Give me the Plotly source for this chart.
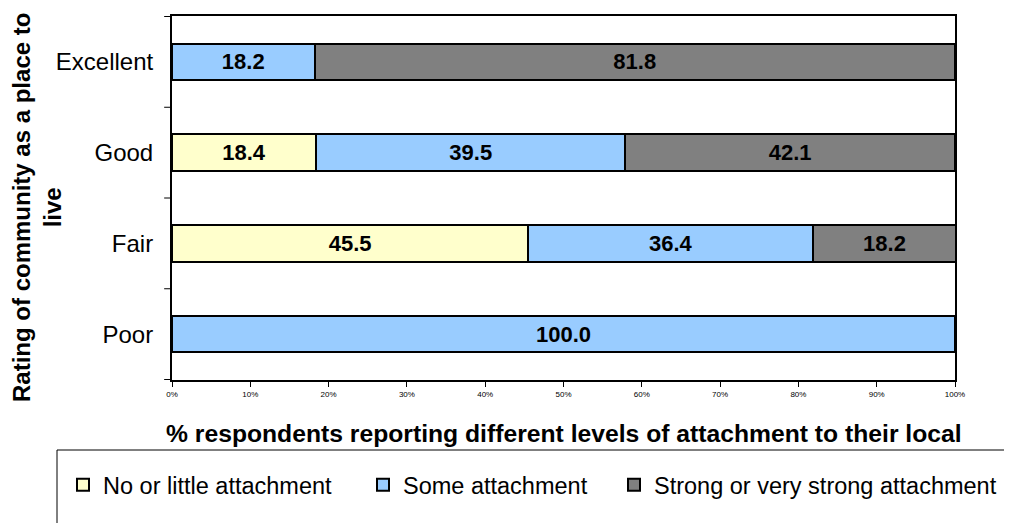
import plotly.graph_objects as go

categories = ["Poor", "Fair", "Good", "Excellent"]
no_little = [None, 45.5, 18.4, None]
some = [100.0, 36.4, 39.5, 18.2]
strong = [None, 18.2, 42.1, 81.8]
series_names = ["No or little attachment", "Some attachment", "Strong or very strong attachment"]
colors = ["#FFFFCC", "#99CCFF", "#808080"]
x_ticks = [0, 10, 20, 30, 40, 50, 60, 70, 80, 90, 100]
x_tick_labels = [f"{v}%" for v in x_ticks]

FONT = "Liberation Sans, Arial"
# plot area in absolute page pixels: x 172..955, y 16..380 (page has 8px body margin)
PX0, PW, PY0, PH = 172, 783, 16, 364


def px_to_paper_x(px):
    return (px - PX0) / PW


def px_to_paper_y(py):
    return (PY0 + PH - py) / PH


legend_ids = ["legend", "legend2", "legend3"]
legend_starts = [63, 363, 614]

fig = go.Figure()
for name, vals, col, lid in zip(series_names, [no_little, some, strong], colors, legend_ids):
    fig.add_trace(go.Bar(
        y=categories, x=vals, name=name, orientation="h",
        marker=dict(color=col, line=dict(color="black", width=2)),
        text=[f"{v:.1f}" if v is not None else "" for v in vals],
        textposition="inside", insidetextanchor="middle",
        textfont=dict(family=FONT, size=22, color="black", weight="bold"),
        width=0.4, legend=lid,
    ))

legend_layouts = {}
for lid, sx in zip(legend_ids, legend_starts):
    legend_layouts[lid] = dict(
        orientation="h", x=px_to_paper_x(sx), xanchor="left",
        y=px_to_paper_y(485), yanchor="middle",
        font=dict(size=23.5), bgcolor="rgba(0,0,0,0)", itemwidth=30,
    )

fig.update_layout(
    barmode="stack",
    width=1012, height=515,
    margin=dict(l=164, r=65, t=8, b=143, autoexpand=False),
    plot_bgcolor="white", paper_bgcolor="white",
    font=dict(family=FONT, color="black"),
    xaxis=dict(
        range=[0, 100], tickvals=x_ticks, ticktext=x_tick_labels,
        tickfont=dict(size=8), ticks="outside", ticklen=5, tickcolor="black",
        showline=True, linecolor="black", linewidth=2, mirror=True,
        showgrid=False, zeroline=False,
    ),
    yaxis=dict(
        categoryorder="array", categoryarray=categories,
        tickfont=dict(size=24), ticks="", showline=True, linecolor="black", linewidth=2, mirror=True,
        showgrid=False, ticklabelstandoff=12,
    ),
    showlegend=True,
    **legend_layouts,
)

# y-axis category boundary ticks (outside, left)
for i in range(5):
    fig.add_shape(type="line", xref="paper", yref="y", x0=-0.01, x1=0, y0=i - 0.5, y1=i - 0.5,
                  line=dict(color="black", width=1))

# y axis title
fig.add_annotation(
    text="<b>Rating of community as a place to<br>live</b>", xref="paper", yref="paper",
    x=px_to_paper_x(37), y=px_to_paper_y(208), xanchor="center", yanchor="middle",
    textangle=-90, showarrow=False, font=dict(size=24),
)

# x axis title
fig.add_annotation(
    text="<b>% respondents reporting different levels of attachment to their local</b>",
    xref="paper", yref="paper", x=px_to_paper_x(564), y=px_to_paper_y(433),
    xanchor="center", yanchor="middle", showarrow=False, font=dict(size=24.7),
)

# legend box
fig.add_shape(type="rect", xref="paper", yref="paper",
              x0=px_to_paper_x(57), x1=px_to_paper_x(1030),
              y0=px_to_paper_y(540), y1=px_to_paper_y(450),
              line=dict(color="black", width=1), fillcolor="rgba(0,0,0,0)", layer="below")

fig.write_html("out.html")
